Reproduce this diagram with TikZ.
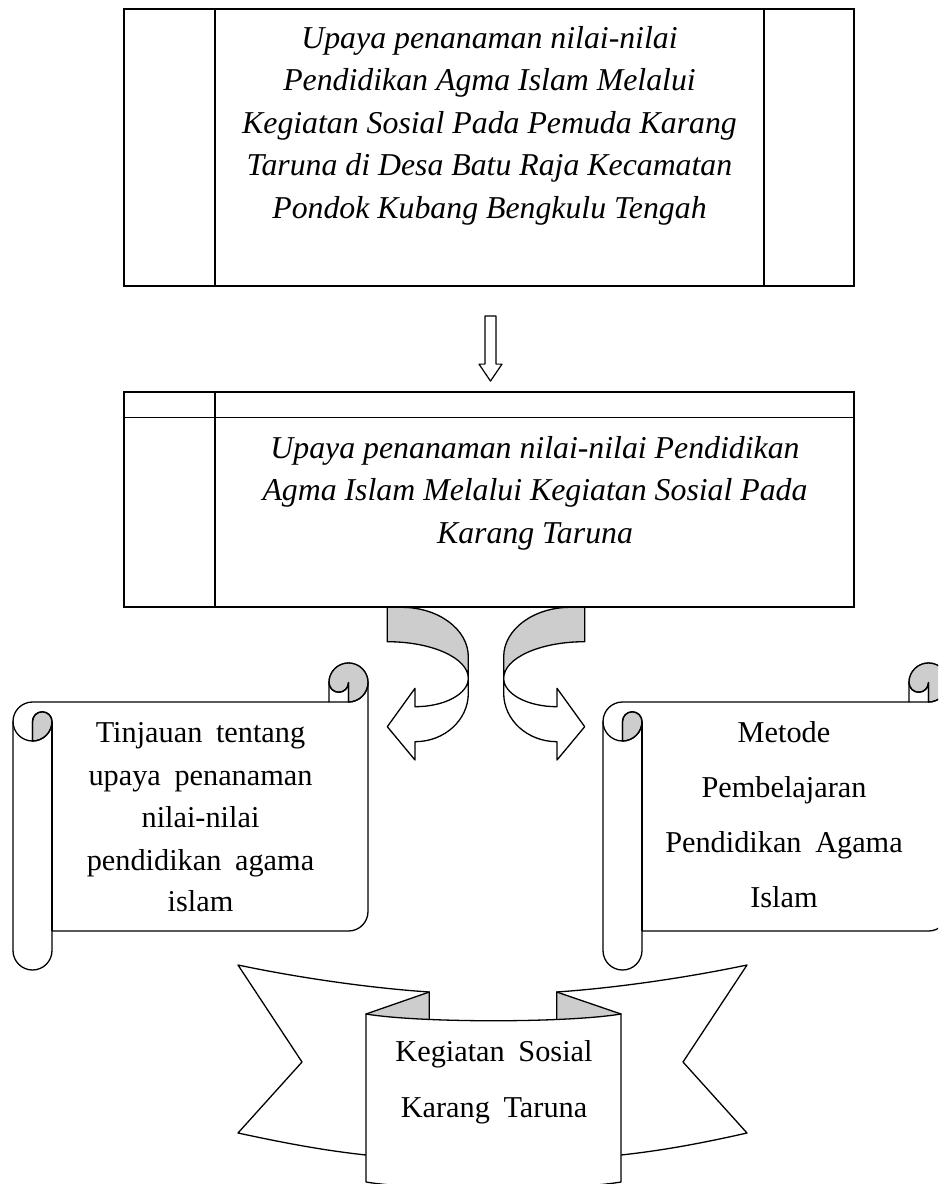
\documentclass[tikz,border=0pt]{standalone}
\usepackage{fontspec}
\setmainfont{Liberation Serif}
\newfontfamily\wideserif[WordSpace=1.8]{Liberation Serif}
\usetikzlibrary{calc}
\definecolor{shade}{RGB}{205,205,205}
\tikzset{
  boxline/.style={line width=1.8pt},
  shapeline/.style={line width=1.3pt, line join=round},
  itext/.style={font=\fontsize{31.8}{38}\selectfont\itshape, anchor=base, inner sep=0pt},
  stext/.style={font=\wideserif\fontsize{30.3}{36}\selectfont, anchor=base, inner sep=0pt},
}
% horizontal scroll: #1=l #2=t #3=r #4=b (pixel units, y down), ch = 39
\newcommand\hscrollshape[4]{%
  \filldraw[shapeline, fill=white]
    (#1,#2+58.5) arc[start angle=180, end angle=270, radius=19.5]
    -- (#3-39,#2+39) -- (#3-39,#2+19.5) arc[start angle=180, end angle=360, radius=19.5]
    -- (#3,#4-58.5) arc[start angle=0, end angle=90, radius=19.5]
    -- (#1+39,#4-39) -- (#1+39,#4-19.5) arc[start angle=0, end angle=180, radius=19.5]
    -- cycle;
  \filldraw[shapeline, fill=shade]
    (#1+19.5,#2+78) arc[start angle=90, end angle=0, radius=19.5]
    arc[start angle=0, end angle=-180, radius=9.75] -- cycle;
  \filldraw[shapeline, fill=shade]
    (#3-19.5,#2+39) arc[start angle=90, end angle=-180, radius=19.5]
    arc[start angle=180, end angle=0, radius=9.75] -- cycle;
  \draw[shapeline] (#3-39,#2+39) -- (#3-19.5,#2+39) arc[start angle=90, end angle=0, radius=19.5];
  \draw[shapeline] (#3-19.5,#2+39) -- (#3-19.5,#2+19.5) arc[start angle=0, end angle=180, radius=9.75];
  \draw[shapeline] (#1+19.5,#2+78) -- (#1+19.5,#2+58.5) arc[start angle=180, end angle=360, radius=9.75]
    arc[start angle=0, end angle=180, radius=19.5];
  \draw[shapeline] (#1+39,#2+58.5) -- (#1+39,#4-39);
}
% curved arrow (left-pointing, relative to axis)
\newcommand\curvedarrow{%
  \filldraw[shapeline, fill=white]
    (-17.7,678.3) -- (-17.7,693.3) arc[start angle=0, end angle=90, x radius=53.3, y radius=48.4]
    -- (-71,760) -- (-98.7,726.7) -- (-71,688.3) -- (-71,706.7)
    arc[start angle=90, end angle=0, x radius=53.3, y radius=28.4] -- cycle;
  \filldraw[shapeline, fill=shade]
    (-98.7,607.3) -- (-84.3,607.3) arc[start angle=270, end angle=360, x radius=66.6, y radius=49.4]
    -- (-17.7,678.3) arc[start angle=0, end angle=-90, x radius=81, y radius=36.6] -- cycle;
}
\begin{document}
\begin{tikzpicture}[x=1pt,y=-1pt]
\useasboundingbox (0,0) rectangle (938,1184);
\clip (0,0) rectangle (938,1184);

% ---------- top box ----------
\node[draw, boxline, minimum width=730pt, minimum height=277pt, inner sep=0pt] (box1) at (489,147.5) {};
\draw[boxline] ($(box1.north west)+(91.7,0)$) -- ($(box1.south west)+(91.7,0)$);
\draw[boxline] ($(box1.north east)+(-91,0)$) -- ($(box1.south east)+(-91,0)$);
\node[itext] (t1a) at (489.5,48) {Upaya penanaman nilai-nilai};
\node[itext] (t1b) at (489.5,90.5) {Pendidikan Agma Islam Melalui};
\node[itext] (t1c) at (489.5,133) {Kegiatan Sosial Pada Pemuda Karang};
\node[itext] (t1d) at (489.5,175.5) {Taruna di Desa Batu Raja Kecamatan};
\node[itext] (t1e) at (489.5,218) {Pondok Kubang Bengkulu Tengah};

% ---------- curved arrows ----------
\begin{scope}[shift={(486,0)}]
  \curvedarrow
\end{scope}
\begin{scope}[shift={(486,0)}, xscale=-1]
  \curvedarrow
\end{scope}

% ---------- second box ----------
\node[draw, boxline, fill=none, minimum width=730pt, minimum height=215pt, inner sep=0pt] (box2) at (489,499.2) {};
\draw[boxline] ($(box2.north west)+(0,26.6)$) -- ($(box2.north east)+(0,26.6)$);
\draw[boxline] ($(box2.north west)+(91.7,0)$) -- ($(box2.south west)+(91.7,0)$);
\node[itext] (t2a) at (535,458) {Upaya penanaman nilai-nilai Pendidikan};
\node[itext] (t2b) at (535,500.5) {Agma Islam Melalui Kegiatan Sosial Pada};
\node[itext] (t2c) at (535,543) {Karang Taruna};

% ---------- hollow down arrow ----------
\coordinate (dtop) at ($(box1.south)+(1.5,29)$);
\coordinate (dtip) at ($(box2.north)+(1.5,-9.7)$);
\draw[shapeline, line width=1.2pt, fill=white]
  ($(dtop)+(-5.5,0)$) -- ($(dtop)+(5.5,0)$) -- ($(dtip)+(5.5,-17)$) -- ($(dtip)+(11.5,-17)$)
  -- (dtip) -- ($(dtip)+(-11.5,-17)$) -- ($(dtip)+(-5.5,-17)$) -- cycle;

% ---------- scrolls ----------
\hscrollshape{13}{663}{368}{970}
\hscrollshape{603}{663}{948}{970}
\node[stext] (s1a) at (200.5,742) {Tinjauan tentang};
\node[stext] (s1b) at (200.5,785) {upaya penanaman};
\node[stext] (s1c) at (200.5,827) {nilai-nilai};
\node[stext] (s1d) at (200.5,870) {pendidikan agama};
\node[stext] (s1e) at (200.5,911) {islam};
\node[stext] (s2a) at (784,742) {Metode};
\node[stext] (s2b) at (784,797) {Pembelajaran};
\node[stext] (s2c) at (784,852) {Pendidikan Agama};
\node[stext] (s2d) at (784,907) {Islam};

% ---------- ribbon ----------
\filldraw[shapeline, fill=white] (238,965) .. controls (300,978) and (370,988) .. (429.3,992)
  -- (429.3,1150) -- (366,1155) .. controls (320,1150) and (280,1142) .. (238,1133) -- (302,1062) -- cycle;
\filldraw[shapeline, fill=white] (747,965) .. controls (685,978) and (615,988) .. (556.7,992)
  -- (556.7,1150) -- (621,1155) .. controls (667,1150) and (707,1142) .. (747,1133) -- (683,1062) -- cycle;
\filldraw[shapeline, fill=shade] (366,1014) -- (429.3,992) -- (429.3,1030) -- cycle;
\filldraw[shapeline, fill=shade] (621,1014) -- (556.7,992) -- (556.7,1030) -- cycle;
\filldraw[shapeline, fill=white] (366,1014) .. controls (420,1023) and (567,1023) .. (621,1014)
  -- (621,1182) .. controls (567,1191) and (420,1191) .. (366,1182) -- cycle;
\node[stext] (r1) at (494,1061) {Kegiatan Sosial};
\node[stext] (r2) at (494,1117) {Karang Taruna};
\end{tikzpicture}
\end{document}
